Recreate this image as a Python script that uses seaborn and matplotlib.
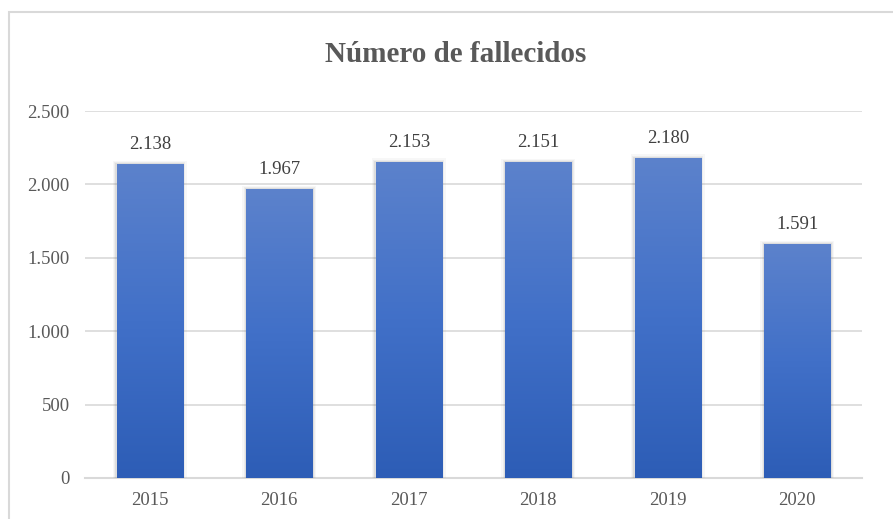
import numpy as np
import pandas as pd
import matplotlib.pyplot as plt
import matplotlib.patches as mpatches
from matplotlib.colors import LinearSegmentedColormap
import seaborn as sns

# Datos del gráfico
anios = ['2015', '2016', '2017', '2018', '2019', '2020']
fallecidos = [2138, 1967, 2153, 2151, 2180, 1591]
etiquetas = ['2.138', '1.967', '2.153', '2.151', '2.180', '1.591']
ticks_y = [0, 500, 1000, 1500, 2000, 2500]
ticks_y_txt = ['0', '500', '1.000', '1.500', '2.000', '2.500']

df = pd.DataFrame({'anio': anios, 'fallecidos': fallecidos})

sns.set_style('white')
plt.rcParams['font.family'] = ['Liberation Serif', 'DejaVu Serif']

fig = plt.figure(figsize=(8.93, 5.19), dpi=100)
ax = fig.add_axes([0.0952, 0.079, 0.8701, 0.7071])

sns.barplot(data=df, x='anio', y='fallecidos', ax=ax, color='#4472C4',
            width=0.51, saturation=1, zorder=3)

ax.set_ylim(0, 2500)
ax.set_xlim(-0.5, 5.5)

# Degradado en las barras
cmap = LinearSegmentedColormap.from_list('azul', ['#2D5DB6', '#4170C8', '#5C82CC'])
grad = np.linspace(0, 1, 256).reshape(-1, 1)
for p in ax.patches:
    x0, y0 = p.get_x(), p.get_y()
    w, h = p.get_width(), p.get_height()
    # sombra suave
    for k, a in enumerate([0.12, 0.08, 0.05]):
        d = 0.01 * (k + 1)
        sh = mpatches.Rectangle((x0 - d, y0), w + 2 * d, h + 8 * (k + 1),
                                color='#707070', alpha=a, lw=0, zorder=3.5)
        ax.add_patch(sh)
    im = ax.imshow(grad, extent=[x0, x0 + w, y0, y0 + h], origin='lower',
                   cmap=cmap, aspect='auto', zorder=4)
    im.set_clip_path(p)
    p.set_edgecolor('none')

ax.set_aspect('auto')
ax.set_xlim(-0.5, 5.5)
ax.set_ylim(0, 2500)

for i, v in enumerate(fallecidos):
    ax.text(i, v + 75, etiquetas[i], ha='center', va='bottom',
            fontsize=13.5, color='#404040')

ax.set_yticks(ticks_y)
ax.set_yticklabels(ticks_y_txt)
ax.yaxis.grid(True, color='#D9D9D9', lw=1.2, zorder=0)
ax.set_axisbelow(True)
for s in ['top', 'right', 'left']:
    ax.spines[s].set_visible(False)
ax.spines['bottom'].set_color('#D9D9D9')
ax.spines['bottom'].set_linewidth(1.5)
ax.tick_params(axis='both', length=0, labelsize=13.5, labelcolor='#595959')
ax.tick_params(axis='x', pad=10)
ax.tick_params(axis='y', pad=11)
ax.set_xlabel('')
ax.set_ylabel('')

fig.text(0.51, 0.895, 'Número de fallecidos', ha='center', va='center',
         fontsize=21, fontweight='bold', color='#595959')

# Borde del gráfico
borde = mpatches.Rectangle((9 / 893, -0.05), 1.0, 1 - 12 / 519 + 0.05,
                           transform=fig.transFigure, fill=False,
                           edgecolor='#D9D9D9', lw=1.5)
fig.patches.append(borde)

fig.savefig('out.png', dpi=100)
